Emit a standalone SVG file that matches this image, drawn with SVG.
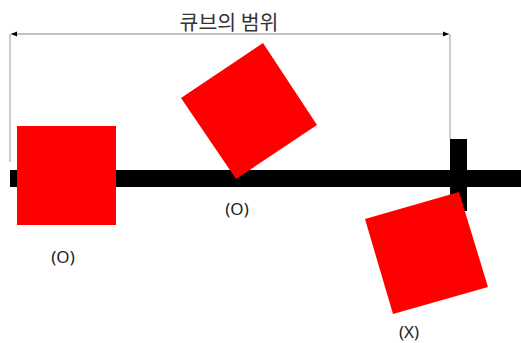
<svg xmlns="http://www.w3.org/2000/svg" width="521" height="343" viewBox="0 0 521 343">
<style>
.cube{fill:#ff0000;}
.bar{fill:#000000;}
.dim{stroke:#9a9a9a;stroke-width:1;fill:none;}
.lbl{font-family:"Noto Sans","Noto Sans CJK KR",sans-serif;font-size:17px;fill:#222;text-anchor:middle;}
.title{font-family:"Noto Sans CJK KR","Noto Sans",sans-serif;font-size:20.5px;fill:#333;text-anchor:middle;}
</style>
<defs>
<marker id="ah" viewBox="0 0 10 10" refX="10" refY="5" markerWidth="6" markerHeight="6" orient="auto-start-reverse" markerUnits="userSpaceOnUse">
<path d="M0,1 L10,5 L0,9 Z" fill="#000"/>
</marker>
</defs>
<rect width="521" height="343" fill="#fff"/>
<g id="track">
<rect class="bar" x="10" y="170" width="511" height="17"/>
<rect class="bar" x="450" y="139" width="17" height="72"/>
</g>
<g id="connectors">
<line class="dim" x1="10" y1="34" x2="10" y2="162"/>
<line class="dim" x1="450" y1="34" x2="450" y2="139"/>
<line class="dim" x1="11" y1="34" x2="449" y2="34" marker-start="url(#ah)" marker-end="url(#ah)" style="stroke:#888"/>
</g>
<g id="range-label">
<text class="title" x="229" y="30">큐브의 범위</text>
</g>
<g id="cube1">
<rect class="cube" x="17" y="126" width="99" height="99"/>
<text class="lbl" x="63" y="263">(O)</text>
</g>
<g id="cube2">
<polygon class="cube" points="263,43 317,125 236,179 181,98"/>
<text class="lbl" x="237" y="215">(O)</text>
</g>
<g id="cube3">
<polygon class="cube" points="365,219 459,192 488,287 393,314"/>
<text class="lbl" x="409" y="338">(X)</text>
</g>
</svg>
